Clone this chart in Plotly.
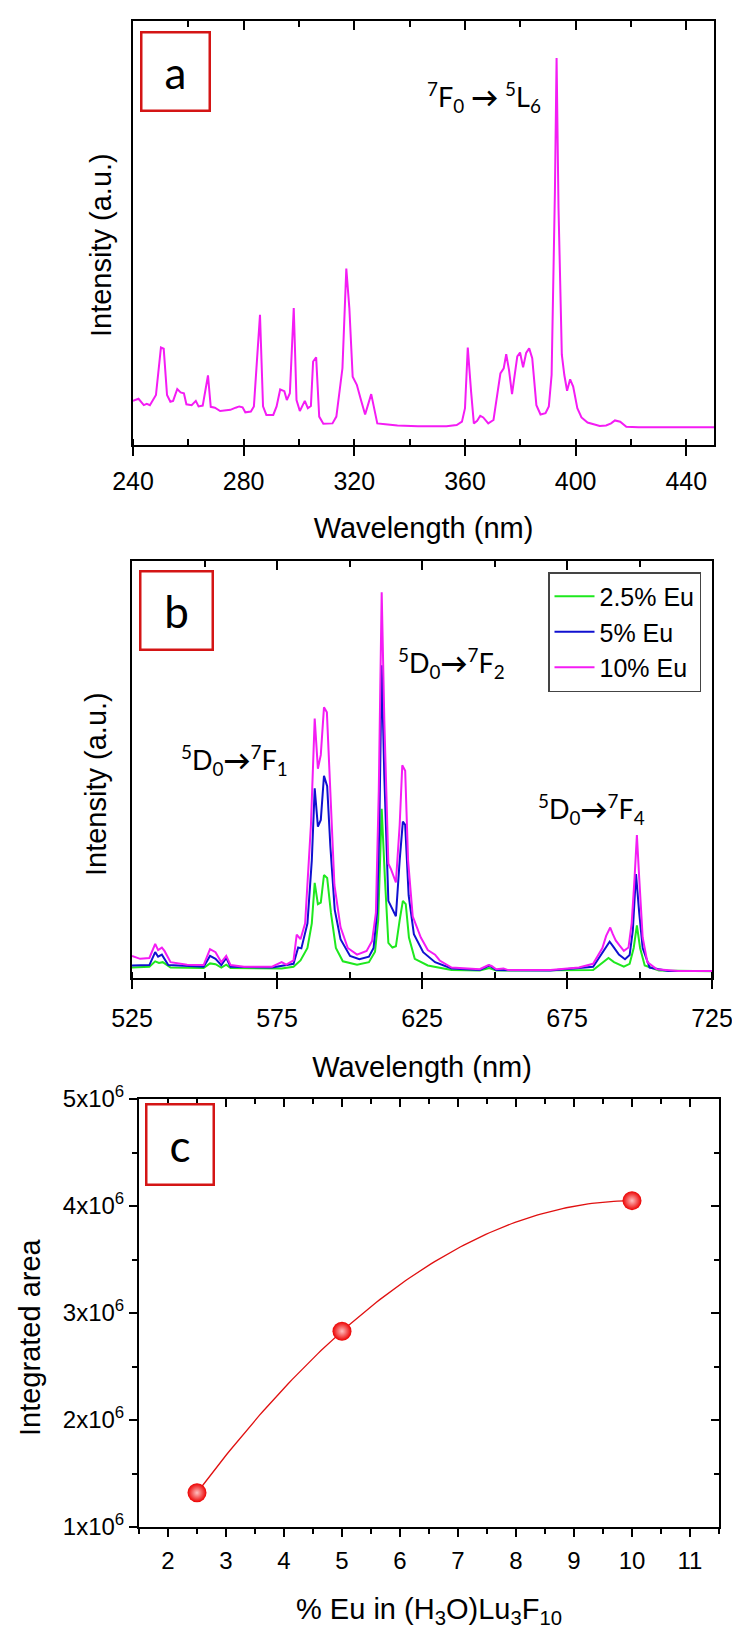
import numpy as np
import plotly.graph_objects as go

# ---------------- Panel a : excitation spectrum ----------------
exc_wavelength = [240.0, 242, 243.9, 245, 246.1, 248.3, 250.1, 251.1, 252.3, 253.5, 254.5, 256, 257.2, 258.4,
                  259.3, 261.2, 262.7, 263.7, 265.2, 267.1, 268.1, 269.6, 271.5, 275.2, 277.1, 278.4, 279.6,
                  280.6, 282.6, 283.7, 285.9, 287, 288.2, 290.7, 291.9, 293.2, 294.7, 295.6, 296.7, 298.1,
                  299.1, 300.3, 302.1, 303.2, 304.3, 305.1, 306.2, 307.3, 308.8, 312.1, 313.5, 315.7, 317.1,
                  318.2, 319.4, 320.9, 322.4, 323.9, 326.1, 327.1, 328.3, 331.2, 335.6, 343, 353.3, 357,
                  358.9, 360, 361, 362.2, 363.2, 364.4, 365.5, 366.6, 368.4, 370.3, 372.8, 374, 374.9, 375.9,
                  377, 378.9, 379.9, 381, 382.1, 383.2, 384.3, 385.8, 387.3, 389.1, 390.3, 391.3, 392.5,
                  393.1, 393.8, 395, 395.9, 396.9, 398, 399.1, 400.6, 402.1, 404.3, 406.5, 408.7, 411, 412.8,
                  414.2, 416.1, 418.3, 422.7, 437.5, 450.0]
exc_intensity = [10.4, 10.9, 9.4, 9.7, 9.4, 11.8, 23.0, 22.7, 11.8, 10.2, 10.4, 13.2, 12.4, 12.2, 9.6, 9.4,
                 10.4, 9.1, 9.3, 16.4, 9.0, 8.8, 8.0, 8.3, 8.8, 9.1, 8.9, 7.7, 7.9, 9.1, 30.7, 9.1, 7.1, 7.1,
                 9.1, 13.1, 12.7, 10.6, 12.2, 32.3, 10.6, 8.0, 10.4, 8.7, 9.2, 19.7, 20.7, 6.7, 5.0, 5.1, 6.7,
                 18.1, 41.6, 32.3, 16.1, 14.2, 10.6, 7.2, 12.0, 9.1, 5.1, 4.9, 4.6, 4.4, 4.4, 4.7, 5.5, 8.7,
                 23.0, 12.6, 5.1, 5.7, 6.9, 6.5, 5.1, 5.9, 16.9, 18.1, 21.4, 17.7, 12.0, 20.9, 21.8, 18.3,
                 21.7, 22.8, 20.5, 9.4, 7.2, 7.5, 9.1, 16.5, 59.8, 91.3, 55.9, 21.3, 16.5, 12.8, 15.5, 13.8,
                 8.7, 6.5, 5.3, 4.9, 4.5, 4.6, 5.1, 5.8, 5.5, 4.3, 4.2, 4.2, 4.2]
a_ticks = [240, 280, 320, 360, 400, 440]

# ---------------- Panel b : emission spectra ----------------
em_wl_10 = [525, 527.8, 531, 533, 534, 535.3, 536.2, 538.3, 544, 549.7, 551.9, 553.8, 555.8, 557.5, 559,
            563.6, 573.3, 576.6, 578.2, 580.7, 581.8, 583.1, 584.7, 586.7, 588, 589.1, 590.1, 591.2, 592.2,
            593.3, 594.8, 596.9, 599.4, 602.6, 605.9, 607.8, 609.1, 610.1, 611.1, 612, 613.4, 614.3, 616,
            617.3, 618.2, 619.2, 620.2, 621.8, 624.6, 627, 629.5, 631.1, 635.2, 644.9, 647.9, 649, 650.6,
            653.1, 654.7, 669.3, 679.1, 684, 687.2, 688.5, 689.9, 690.8, 691.8, 693.1, 694.6, 696.2, 697.3,
            698.3, 699.1, 699.9, 701.1, 702.7, 706, 713.3, 725]
em_int_10 = [5.3, 4.6, 4.8, 8.2, 6.7, 7.3, 6.5, 3.8, 3.2, 3.1, 6.9, 6.2, 3.8, 5.3, 3.1, 2.7, 2.7, 3.8, 3.2,
             4.2, 10.4, 9.3, 13.1, 36.7, 62.2, 50.2, 53.5, 64.9, 63.7, 45.1, 22.3, 12.2, 7.2, 5.6, 6.5, 8.9,
             15.6, 45.1, 92.5, 62.0, 27.4, 26.1, 22.9, 36.7, 51.0, 49.7, 28.2, 14.8, 9.7, 6.7, 5.6, 4.2, 2.5,
             2.1, 3.1, 2.9, 2.1, 2.3, 1.9, 1.9, 2.5, 3.4, 7.2, 10.1, 12.1, 10.5, 9.0, 7.8, 6.5, 7.3, 13.1,
             24.0, 34.3, 24.0, 9.7, 3.8, 2.1, 1.7, 1.7]
em_wl_5 = [525, 531, 533, 534, 535.3, 537.5, 549.7, 551.9, 553.8, 555.8, 557.5, 559, 573.3, 578.2, 580.7,
           582.3, 583.4, 585.5, 587, 588, 589.1, 590.1, 591.2, 592.3, 593.4, 594.9, 596.9, 600.2, 603.4,
           606.7, 608.3, 609.5, 610.3, 611.1, 612, 613.4, 614.8, 616, 617.3, 618.4, 619.2, 620.4, 622.2,
           625.4, 629.5, 635.2, 644.9, 648.2, 650.6, 669.3, 684, 687.5, 689.7, 690.9, 692.9, 695, 696.6,
           697.7, 698.8, 699.9, 701.1, 703.5, 709.9, 725]
em_int_5 = [3.0, 3.1, 6.2, 5.1, 5.6, 3.1, 2.7, 5.3, 4.6, 3.1, 4.8, 2.7, 2.5, 3.0, 3.4, 7.3, 7.1, 13.1, 28.2,
            45.5, 36.3, 37.9, 48.5, 46.0, 31.6, 16.4, 9.3, 5.3, 4.5, 5.1, 7.2, 15.6, 36.7, 75.0, 48.5, 18.5,
            16.4, 14.8, 28.2, 37.5, 36.7, 19.8, 10.5, 6.2, 3.8, 2.3, 1.9, 3.0, 1.9, 1.8, 2.7, 6.2, 8.7, 7.6,
            5.6, 4.5, 5.5, 11.4, 24.9, 15.6, 7.2, 2.5, 1.7, 1.7]
em_wl_25 = [525, 531, 533, 534.3, 535.6, 538.3, 549.7, 551.9, 553.8, 555.8, 557.5, 559, 576.6, 580.7, 583.1,
            585.5, 587, 588, 589.1, 590.1, 591.2, 592.3, 593.6, 595.3, 597.7, 602.6, 606.7, 608.8, 609.9,
            611.1, 612.2, 613.4, 614.8, 616, 617.3, 618.4, 619.4, 620.5, 622.5, 627, 635.2, 644.9, 648.2,
            650.6, 684, 687.5, 689.3, 691.2, 694.6, 696.6, 698, 699.1, 700.2, 701.8, 706.7, 725]
em_int_25 = [2.5, 2.7, 4.0, 3.6, 3.8, 2.5, 2.4, 3.5, 3.3, 2.5, 3.2, 2.4, 2.3, 2.7, 4.2, 7.2, 13.1, 22.8, 17.7,
             18.1, 24.7, 24.0, 15.6, 7.2, 4.0, 3.2, 3.8, 6.3, 13.9, 40.6, 24.0, 8.4, 7.3, 7.6, 13.9, 18.5,
             17.7, 9.7, 4.6, 3.0, 1.9, 1.8, 2.4, 1.8, 1.9, 3.8, 4.8, 3.8, 2.7, 3.4, 7.2, 12.6, 7.2, 3.0, 1.8,
             1.6]
series_names = ["2.5% Eu", "5% Eu", "10% Eu"]
b_ticks = [525, 575, 625, 675, 725]

# ---------------- Panel c : integrated area ----------------
eu_percent = [2.5, 5, 10]
integrated_area = [1.32e6, 2.83e6, 4.05e6]
c_xticks = [2, 3, 4, 5, 6, 7, 8, 9, 10, 11]
c_yticks = [1e6, 2e6, 3e6, 4e6, 5e6]
c_yticktext = ["1x10<sup>6</sup>", "2x10<sup>6</sup>", "3x10<sup>6</sup>", "4x10<sup>6</sup>", "5x10<sup>6</sup>"]

# ------------------------------------------------------------
W, H = 740, 1629
AX_FONT = "Arial, Liberation Sans, sans-serif"
ANN_FONT = "Lato, Open Sans, sans-serif"

def px_x(p):
    return p / W

def px_y(p):
    return 1 - p / H

dom_a_x = [px_x(125), px_x(706)]
dom_a_y = [px_y(437), px_y(13)]
dom_b_x = [px_x(124), px_x(704)]
dom_b_y = [px_y(970), px_y(553)]
dom_c_x = [px_x(131), px_x(711)]
dom_c_y = [px_y(1519), px_y(1091)]

fig = go.Figure()

# panel a
fig.add_trace(go.Scatter(x=exc_wavelength, y=exc_intensity, mode="lines",
                         line=dict(color="#f41cf4", width=2), showlegend=False,
                         xaxis="x", yaxis="y"))
# panel b
for name, xs, ys, col in [(series_names[0], em_wl_25, em_int_25, "#1ee81e"),
                          (series_names[1], em_wl_5, em_int_5, "#1010d0"),
                          (series_names[2], em_wl_10, em_int_10, "#f41cf4")]:
    fig.add_trace(go.Scatter(x=xs, y=ys, mode="lines", name=name,
                             line=dict(color=col, width=2), xaxis="x2", yaxis="y2"))

# panel c : quadratic fit through the data + points
coef = np.polyfit(eu_percent, integrated_area, 2)
fit_x = np.linspace(min(eu_percent), max(eu_percent), 120)
fit_y = np.polyval(coef, fit_x)
fig.add_trace(go.Scatter(x=fit_x, y=fit_y, mode="lines", line=dict(color="#e01010", width=1.3),
                         showlegend=False, xaxis="x3", yaxis="y3", hoverinfo="skip"))
fig.add_trace(go.Scatter(x=eu_percent, y=integrated_area, mode="markers",
                         marker=dict(size=19, color="#ec0000",
                                     gradient=dict(type="radial", color="#ffc0c0"),
                                     line=dict(width=0)),
                         showlegend=False, xaxis="x3", yaxis="y3"))

# empty traces to activate the mirror (top / right) tick axes
for xa, ya in [("x4", "y"), ("x5", "y2"), ("x6", "y3"), ("x3", "y4")]:
    fig.add_trace(go.Scatter(x=[], y=[], xaxis=xa, yaxis=ya, showlegend=False, hoverinfo="skip"))

tickfont = dict(family=AX_FONT, size=25, color="black")
titlefont = dict(family=AX_FONT, size=29, color="black")

common = dict(showgrid=False, zeroline=False, linecolor="black", linewidth=2,
              tickcolor="black", tickwidth=2)

layout = dict(
    width=W, height=H, margin=dict(l=0, r=0, t=0, b=0),
    paper_bgcolor="white", plot_bgcolor="white", template="none",
    showlegend=True,
    legend=dict(x=px_x(693), y=px_y(564), xanchor="right", yanchor="top",
                font=dict(family=AX_FONT, size=25, color="black"),
                bordercolor="#444444", borderwidth=1.5, bgcolor="white",
                tracegroupgap=0, itemwidth=40),
    # ---- panel a
    xaxis=dict(domain=dom_a_x, anchor="y", range=[240, 450], tickmode="array", tickvals=a_ticks,
               ticks="outside", ticklen=9, showline=True, mirror=True, tickfont=tickfont,
               ticklabelstandoff=4,
               minor=dict(ticks="inside", ticklen=6, tickwidth=2, tickcolor="black", dtick=20, tick0=240),
               title=dict(text="Wavelength (nm)", font=titlefont, standoff=24), **common),
    yaxis=dict(domain=dom_a_y, anchor="x", range=[0, 100], ticks="", showticklabels=False,
               showline=True, mirror=True, **common),
    xaxis4=dict(overlaying="x", anchor="y", side="top", range=[240, 450], tickmode="array",
                tickvals=a_ticks, ticks="inside", ticklen=9, showticklabels=False, showline=False,
                minor=dict(ticks="inside", ticklen=6, tickwidth=2, tickcolor="black", dtick=20, tick0=240),
                **common),
    # ---- panel b
    xaxis2=dict(domain=dom_b_x, anchor="y2", range=[525, 725], tickmode="array", tickvals=b_ticks,
                ticks="outside", ticklen=9, showline=True, mirror=True, tickfont=tickfont,
                ticklabelstandoff=8,
                minor=dict(ticks="inside", ticklen=6, tickwidth=2, tickcolor="black", dtick=25, tick0=525),
                title=dict(text="Wavelength (nm)", font=titlefont, standoff=26), **common),
    yaxis2=dict(domain=dom_b_y, anchor="x2", range=[0, 100], ticks="", showticklabels=False,
                showline=True, mirror=True, **common),
    xaxis5=dict(overlaying="x2", anchor="y2", side="top", range=[525, 725], tickmode="array",
                tickvals=b_ticks, ticks="inside", ticklen=9, showticklabels=False, showline=False,
                minor=dict(ticks="inside", ticklen=6, tickwidth=2, tickcolor="black", dtick=25, tick0=525),
                **common),
    # ---- panel c
    xaxis3=dict(domain=dom_c_x, anchor="y3", range=[1.5, 11.5], tickmode="array", tickvals=c_xticks,
                ticks="outside", ticklen=8, showline=True, mirror=True,
                tickfont=dict(family=AX_FONT, size=24, color="black"), ticklabelstandoff=3,
                minor=dict(ticks="outside", ticklen=5, tickwidth=2, tickcolor="black", dtick=0.5, tick0=2),
                title=dict(text="% Eu in (H<sub>3</sub>O)Lu<sub>3</sub>F<sub>10</sub>", font=titlefont,
                           standoff=26), **common),
    yaxis3=dict(domain=dom_c_y, anchor="x3", range=[1e6, 5e6], tickmode="array", tickvals=c_yticks,
                ticktext=c_yticktext, ticks="outside", ticklen=8, showline=True, mirror=True,
                tickfont=dict(family=AX_FONT, size=24, color="black"),
                minor=dict(ticks="outside", ticklen=5, tickwidth=2, tickcolor="black", dtick=5e5, tick0=1e6),
                **common),
    xaxis6=dict(overlaying="x3", anchor="y3", side="top", range=[1.5, 11.5], tickmode="array",
                tickvals=c_xticks, ticks="inside", ticklen=8, showticklabels=False, showline=False,
                minor=dict(ticks="inside", ticklen=5, tickwidth=2, tickcolor="black", dtick=0.5, tick0=2),
                **common),
    yaxis4=dict(overlaying="y3", anchor="x3", side="right", range=[1e6, 5e6], tickmode="array",
                tickvals=c_yticks, ticks="inside", ticklen=8, showticklabels=False, showline=False,
                minor=dict(ticks="inside", ticklen=5, tickwidth=2, tickcolor="black", dtick=5e5, tick0=1e6),
                **common),
)
fig.update_layout(**layout)

# y-axis titles (placed as rotated text beside each panel)
for txt, cx, cy in [("Intensity (a.u.)", 93, 237), ("Intensity (a.u.)", 88, 776), ("Integrated area", 22, 1329)]:
    fig.add_annotation(text=txt, xref="paper", yref="paper", x=px_x(cx), y=px_y(cy), textangle=-90,
                       xanchor="center", yanchor="middle", showarrow=False, font=titlefont)

# panel letter boxes
for letter, cx, cy, w, h in [("a", 167.5, 63.5, 66, 76), ("b", 168.5, 602.5, 70, 76), ("c", 172, 1136.5, 65, 78)]:
    fig.add_annotation(text=letter, xref="paper", yref="paper", x=px_x(cx), y=px_y(cy),
                       xanchor="center", yanchor="middle", showarrow=False, width=w, height=h,
                       bordercolor="#d41515", borderwidth=2.5, borderpad=0, bgcolor="white",
                       font=dict(family=ANN_FONT, size=44, color="black"))

# transition labels
fig.add_annotation(text="<sup>7</sup>F<sub>0</sub> <b>→</b> <sup>5</sup>L<sub>6</sub>", x=367, y=82,
                   xref="x", yref="y", showarrow=False, font=dict(family=ANN_FONT, size=27, color="black"))
for txt, xx, yy in [("<sup>5</sup>D<sub>0</sub><b>→</b><sup>7</sup>F<sub>2</sub>", 635, 75.5),
                    ("<sup>5</sup>D<sub>0</sub><b>→</b><sup>7</sup>F<sub>1</sub>", 560.3, 52.3),
                    ("<sup>5</sup>D<sub>0</sub><b>→</b><sup>7</sup>F<sub>4</sub>", 683.4, 40.5)]:
    fig.add_annotation(text=txt, x=xx, y=yy, xref="x2", yref="y2", showarrow=False,
                       font=dict(family=ANN_FONT, size=27, color="black"))

fig.write_html("out.html")
